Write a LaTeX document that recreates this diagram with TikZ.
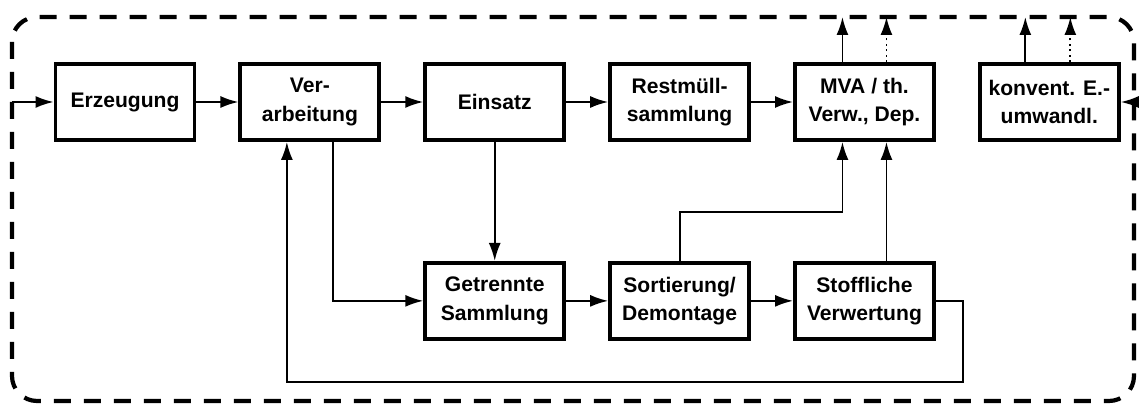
\documentclass[tikz,border=0pt]{standalone}
\usepackage{fontspec}
\setmainfont{Liberation Sans}
\usepackage{tikz}
\usetikzlibrary{
    arrows.meta,
    positioning,
    calc
}

\begin{document}
\begin{tikzpicture}[
        node distance=2.38cm and 0.84cm,
        box/.style={
            rectangle,
            draw,
            line width=2.2pt,
            align=center,
            font=\fontsize{12}{16}\selectfont\bfseries,
            inner sep=2pt,
            minimum width=2.78cm,
            minimum height=1.52cm
        },
        line/.style={
            -{Latex[length=3.6mm,width=2.4mm]},
            line width=1.1pt
        },
        frame/.style={
            line width=2.4pt,
            dash pattern=on 0.34cm off 0.26cm,
            rounded corners=0.5cm
        }
    ]

    \useasboundingbox (0,0) rectangle (22.82,-8.12);

    % system border
    \coordinate (nw) at (0.24,-0.34);
    \coordinate (se) at (22.68,-8.02);
    \draw[frame] (nw) rectangle (se);

    % upper row
    \node[box] (erz) at (2.5,-2.04) {Erzeugung};
    \node[box, right=of erz] (verarb) {Ver-\\arbeitung};
    \node[box, right=of verarb] (einsatz) {Einsatz};
    \node[box, right=of einsatz] (restm) {Restmüll-\\sammlung};
    \node[box, right=of restm] (mva) {MVA / th.\\Verw., Dep.};
    \node[box, right=of mva] (konv) {konvent. E.-\\umwandl.};

    % lower row
    \node[box, below=of einsatz] (getr) {Getrennte\\Sammlung};
    \node[box, right=of getr] (sort) {Sortierung/\\Demontage};
    \node[box, right=of sort] (stoff) {Stoffliche\\Verwertung};

    \coordinate (back) at (19.26,-7.64);

    \draw[line] (nw |- erz) -- (erz);
    \draw[line] (erz) -- (verarb);
    \draw[line] (verarb) -- (einsatz);
    \draw[line] (einsatz) -- (restm);
    \draw[line] (restm) -- (mva);
    \draw[line] (se |- konv) -- (konv);

    % outputs through the border
    \draw[line] ([xshift=-0.44cm]mva.north) -- ([xshift=-0.44cm]mva.north |- nw);
    \draw[line, dotted] ([xshift=0.44cm]mva.north) -- ([xshift=0.44cm]mva.north |- nw);
    \draw[line] ([xshift=-0.48cm]konv.north) -- ([xshift=-0.48cm]konv.north |- nw);
    \draw[line, dotted] ([xshift=0.42cm]konv.north) -- ([xshift=0.42cm]konv.north |- nw);

    \draw[line] (einsatz) -- (getr);
    \draw[line] ([xshift=0.46cm]verarb.south) |- (getr.west);
    \draw[line] (getr) -- (sort);
    \draw[line] (sort) -- (stoff);

    \draw[line] (sort.north) -- ++(0,0.98) -| ([xshift=-0.44cm]mva.south);
    \draw[line] ([xshift=0.44cm]stoff.north) -- ([xshift=0.44cm]mva.south);

    % feedback loop
    \draw[line] (stoff.east) -| (back) -| ([xshift=-0.46cm]verarb.south);

\end{tikzpicture}
\end{document}
